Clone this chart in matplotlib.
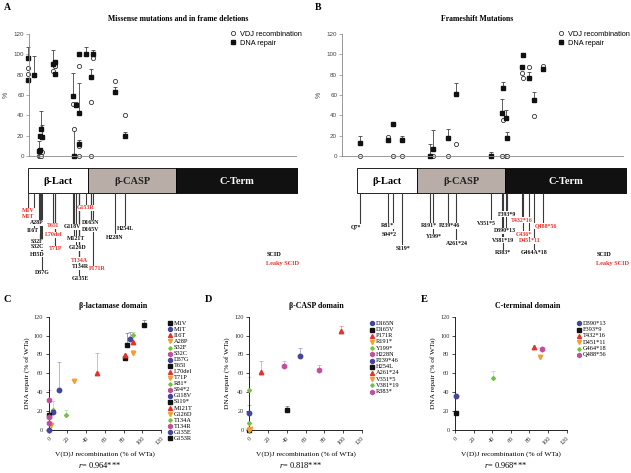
import numpy as np
import matplotlib.pyplot as plt

W, H = 631, 473
SERIF = ['Liberation Serif', 'DejaVu Serif']
SANS = ['Liberation Sans', 'DejaVu Sans']
RED = '#e8302b'

plt.rcParams['font.family'] = SERIF
plt.rcParams['mathtext.fontset'] = 'custom'
plt.rcParams['mathtext.rm'] = 'Liberation Serif'
plt.rcParams['mathtext.it'] = 'Liberation Serif:italic'

# protein map (residues)
domain_names = ['β-Lact', 'β-CASP', 'C-Term']
domain_start = [0, 158, 388]
domain_end = [158, 388, 708]
domain_fill = ['white', '#b8aea7', '#111111']
domain_ink = ['black', '#222222', 'white']

# panel A: missense / in-frame
a_names = ['M1V', 'M1T', 'I16T', 'A28P', 'S32F', 'S32C', 'H35D', 'D37G', 'T65I', 'L70del', 'T71P',
           'G118V', 'M121T', 'G126D', 'T134A', 'T134R', 'G135E', 'G153R', 'D165N', 'D165V', 'P171R',
           'H228N', 'H254L']
a_pos = [1, 1, 16, 28, 32, 32, 35, 37, 65, 70, 71, 118, 121, 126, 134, 134, 135, 153, 165, 165, 171, 228, 254]
a_leaky = [1, 1, 0, 0, 0, 0, 0, 0, 1, 1, 1, 0, 0, 0, 1, 0, 0, 1, 0, 0, 1, 0, 0]
a_vdj = [87, 81, 80, 0, 4, 0, 0, 4, 84, 89, 89, 51, 27, 51, 89, 10, 0, 100, 53, 0, 96, 74, 40]
a_rep = [96, 75, 80, 5, 20, 6, 27, 19, 90, 92, 81, 59, 0, 50, 100, 12, 42, 100, 78, np.nan, 100, 63, 20]
a_err = [11, 0, 18, 10, 0, 0, 17, 11, 14, 0, 0, 23, 28, 0, 0, 4, 30, 7, 8, 0, 4.5, 5, 4]

# panel B: frameshift
b_names = ['Q7*', 'R81*', 'S94*2', 'S119*', 'R191*', 'Y199*', 'P239*46', 'A261*24', 'V351*5', 'V381*19',
           'R383*', 'D390*13', 'F393*9', 'T432*16', 'C436*', 'D451*11', 'G464A*18', 'Q488*56']
b_pos = [7, 81, 94, 119, 191, 199, 239, 261, 351, 381, 383, 390, 393, 432, 436, 451, 464, 488]
b_leaky = [0, 0, 0, 0, 0, 0, 0, 0, 0, 0, 0, 0, 0, 1, 1, 1, 0, 1]
b_vdj = [0, 19, 0, 0, 0, 0, 0, 12, 0, 0, 35, 0, 0, 82, 77, 88, 39, 89]
b_rep = [13, 16, 31, 16, 0, 7, 18, 61, 0, 42, 67, 37, 18, 88, 99, 77, 55, 86]
b_err = [7, 2, 0, 4, 11.5, 19, 8.6, 11, 4, 14.5, 5.5, 8, 6, 0, 0, 6, 7.6, 1]

# panels C-E: V(D)J vs DNA repair
c_names = ['M1V', 'M1T', 'I16T', 'A28P', 'S32F', 'S32C', 'D37G', 'T65I', 'L70del', 'T71P', 'R81*',
           'S94*2', 'G118V', 'S119*', 'M121T', 'G126D', 'T134A', 'T134R', 'G135E', 'G153R']
c_style = ['k', 'n', 'r', 'o', 'g', 'p', 'n', 'k', 'r', 'o', 'g', 'p', 'n', 'k', 'r', 'o', 'g', 'p', 'n', 'k']
c_vdj = [81, 87, 81, 2, 5, 0, 5, 84, 90.5, 90.5, 19, 0, 11, 0, 52, 27, 90, 0, 0, 102]
c_rep = [76, 96, 79, 5, 21, 7, 19, 90.5, 93, 82, 16, 32, 42.5, 15.5, 60, 52, 101, 14, 0, 111]
c_err = [2, 8, 0, 0, 10, 0, 0, 12.5, 0, 3, 5, 10, 30, 0, 22, 2, 3, 0, 0, 6]

d_names = ['D165N', 'D165V', 'P171R', 'R191*', 'Y199*', 'H228N', 'P239*46', 'H254L', 'A261*24',
           'V351*5', 'V381*19', 'R383*']
d_style = ['n', 'k', 'r', 'o', 'g', 'p', 'n', 'k', 'r', 'o', 'g', 'p']
d_vdj = [54.5, 0, 98, 0.5, 0, 74, 0, 40.5, 13, 0, 0, 37]
d_rep = [78, 0, 105, 1.4, 7, 63.5, 17.6, 21, 61.5, 0, 42.5, 68]
d_err = [9, 0, 5, 0, 0, 5, 9, 4, 11.5, 0, 14, 5]

e_names = ['D390*13', 'F393*9', 'T432*16', 'D451*11', 'G464*18', 'Q488*56']
e_style = ['n', 'k', 'r', 'o', 'g', 'p']
e_vdj = [1, 1, 85, 91.4, 41, 93]
e_rep = [36, 17.6, 88, 77.6, 54.7, 86]
e_err = [0, 0, 0, 0, 8, 2]

STYLE = {'k': ('s', '#111111', 3.0), 'n': ('o', '#45469b', 3.2), 'r': ('^', RED, 3.2),
         'o': ('v', '#f4a030', 3.2), 'g': ('D', '#76c043', 2.0), 'p': ('h', '#c24f9c', 3.4)}

fig = plt.figure(figsize=(W / 100, H / 100), dpi=100)


def px_axes(x0, y0, x1, y1):
    return fig.add_axes([x0 / W, 1 - y1 / H, (x1 - x0) / W, (y1 - y0) / H])


def ftext(x, y, s, **kw):
    fig.text(x / W, 1 - y / H, s, **kw)


AA_PX = 0.381  # pixels per residue


def mutation_panel(off, ax_x0, ax_x1, pos, vdj, rep, err, names, leaky, lab_x, lab_y, legend_x, scid_x):
    ax = px_axes(ax_x0, 34, ax_x1, 156)
    ax.set_xlim((ax_x0 - off) / AA_PX, (ax_x1 - off) / AA_PX)
    ax.set_ylim(0, 120)
    for s in ['top', 'right']:
        ax.spines[s].set_visible(False)
    for s in ['left', 'bottom']:
        ax.spines[s].set_color('#888888')
        ax.spines[s].set_linewidth(0.6)
    ax.set_xticks([])
    ax.set_yticks(np.arange(0, 121, 20))
    ax.tick_params(axis='y', length=2.5, width=0.5, color='#888888', labelsize=4.5,
                   labelcolor='#444444', pad=1)
    for t in ax.get_yticklabels():
        t.set_family(SANS)
    ax.set_ylabel('%', family=SANS, fontsize=5, color='#444444', labelpad=3)
    ax.errorbar(pos, rep, yerr=[np.zeros(len(err)), err], fmt='none', ecolor='#444444',
                elinewidth=0.6, capsize=1.6, capthick=0.6, clip_on=False)
    ax.plot(pos, vdj, 'o', ms=3, mfc='white', mec='#333333', mew=0.6, ls='none', clip_on=False,
            label='VDJ recombination')
    ax.plot(pos, rep, 's', ms=3, color='#111111', ls='none', clip_on=False, label='DNA repair')
    ax.legend(loc='upper left', bbox_to_anchor=((legend_x - ax_x0) / (ax_x1 - ax_x0), 1.06),
              frameon=False, prop={'family': SANS, 'size': 5.3}, handletextpad=0.4,
              labelspacing=0.3, handlelength=1.0, borderpad=0)

    # domain map with mutation labels
    bx = px_axes(off, 160, off + domain_end[-1] * AA_PX, 290)
    bx.set_xlim(0, domain_end[-1])
    bx.set_ylim(290, 160)
    bx.axis('off')
    widths = np.array(domain_end) - np.array(domain_start)
    bx.barh(180.5, widths, left=domain_start, height=25, color=domain_fill,
            edgecolor='black', linewidth=0.6)
    for s, e, n, c in zip(domain_start, domain_end, domain_names, domain_ink):
        bx.text((s + e) / 2, 181, n, ha='center', va='center', color=c,
                fontsize=7.5, fontweight='bold')
    for p, n, lk, lx, ly in zip(pos, names, leaky, lab_x, lab_y):
        bx.vlines(p, 193, ly, color='#3a3a3a', lw=0.8, zorder=1)
        bx.text((lx - off) / AA_PX, ly, n, ha='center', va='center', fontsize=4.2,
                fontweight='bold', color=RED if lk else '#111111', zorder=3, clip_on=False,
                bbox=dict(boxstyle='square,pad=0.08', fc='white', ec='none'))
    ftext(scid_x, 254, 'SCID', ha='center', va='center', fontsize=4.5, fontweight='bold')
    ftext(scid_x + 9, 263.5, 'Leaky SCID', ha='center', va='center', fontsize=4.5,
          fontweight='bold', color=RED)


a_lab_x = [28, 28, 33, 36.7, 37, 37, 37, 42, 53, 54, 55.7, 72.7, 76, 77.3, 79.3, 80, 80, 86, 90.7,
           90.7, 97, 115, 125.7]
a_lab_y = [210.7, 216.7, 231, 222.7, 241.7, 247, 254, 272.7, 225.7, 235, 249, 226.7, 238.7, 247.7,
           260, 266.7, 278.7, 207.7, 222.7, 229.3, 269, 237.3, 229]
b_lab_x = [356, 387.3, 389.5, 403.3, 429, 434, 449.3, 457.3, 486.7, 503.3, 502.7, 505, 506.7, 522,
           524, 530, 534.3, 546]
b_lab_y = [226.7, 225.7, 234, 248.3, 225.7, 237, 225.7, 243.3, 223.3, 240, 252.7, 230.7, 214.3,
           220, 234.3, 241, 252.7, 226]

mutation_panel(28, 29, 296, a_pos, a_vdj, a_rep, a_err, a_names, a_leaky, a_lab_x, a_lab_y, 226, 274)
mutation_panel(357, 342, 623, b_pos, b_vdj, b_rep, b_err, b_names, b_leaky, b_lab_x, b_lab_y, 554, 604)

ftext(178, 19, 'Missense mutations and in frame deletions', ha='center', va='center',
      fontsize=5.6, fontweight='bold')
ftext(477, 19, 'Frameshift Mutations', ha='center', va='center', fontsize=5.6, fontweight='bold')
ftext(7, 7, 'A', ha='center', va='center', fontsize=7, fontweight='bold')
ftext(318, 7, 'B', ha='center', va='center', fontsize=7, fontweight='bold')


def corr_panel(x0, x1, names, styles, vdj, rep, err, title, title_x, letter, letter_x, r_text,
               leg_x, leg_step):
    ax = px_axes(x0, 316.7, x1, 430)
    ax.set_xlim(0, 120)
    ax.set_ylim(0, 120)
    for s in ['top', 'right']:
        ax.spines[s].set_visible(False)
    for s in ['left', 'bottom']:
        ax.spines[s].set_linewidth(0.6)
    ticks = np.arange(0, 121, 20)
    ax.set_xticks(ticks)
    ax.set_yticks(ticks)
    ax.tick_params(length=2.5, width=0.5, labelsize=4.6, labelcolor='#333333', pad=1.5)
    for t in ax.get_xticklabels():
        t.set_rotation(45)
        t.set_ha('right')
        t.set_rotation_mode('anchor')
    ax.set_xlabel('V(D)J recombination (% of WTa)', fontsize=5.3, labelpad=4)
    ax.set_ylabel('DNA repair (% of WTa)', fontsize=5.3, labelpad=3)
    for i, st in enumerate(styles):
        m, c, ms = STYLE[st]
        if err[i] > 0:
            ax.errorbar([vdj[i]], [rep[i]], yerr=[[0], [err[i]]], fmt='none', ecolor=c, alpha=0.45,
                        elinewidth=0.6, capsize=1.6, capthick=0.6, clip_on=False)
        ax.plot(vdj[i], rep[i], marker=m, color=c, ms=ms, ls='none', clip_on=False, zorder=3)
        # legend entry
        y = 323.3 + i * leg_step
        fig.add_artist(plt.Line2D([leg_x / W], [1 - y / H], marker=m, color=c, ms=ms * 0.9,
                                  ls='none', transform=fig.transFigure))
        ftext(leg_x + 4, y, names[i], ha='left', va='center', fontsize=4.6)
    ftext(title_x, 305.7, title, ha='center', va='center', fontsize=5.7, fontweight='bold')
    ftext(letter_x, 300, letter, ha='center', va='center', fontsize=7.5, fontweight='bold')
    ftext((x0 + x1) / 2 - 5, 465, r_text, ha='center', va='center', fontsize=6)


corr_panel(48.7, 161, c_names, c_style, c_vdj, c_rep, c_err, 'β-lactamase domain', 113, 'C', 7,
           '$r$= 0.964***', 170, 6.05)
corr_panel(249.3, 361.7, d_names, d_style, d_vdj, d_rep, d_err, 'β-CASP domain', 316, 'D', 209,
           '$r$= 0.818***', 371.7, 6.2)
corr_panel(455, 566.7, e_names, e_style, e_vdj, e_rep, e_err, 'C-terminal domain', 528, 'E', 424,
           '$r$= 0.968***', 579, 6.3)

fig.savefig('out.png', dpi=100)
